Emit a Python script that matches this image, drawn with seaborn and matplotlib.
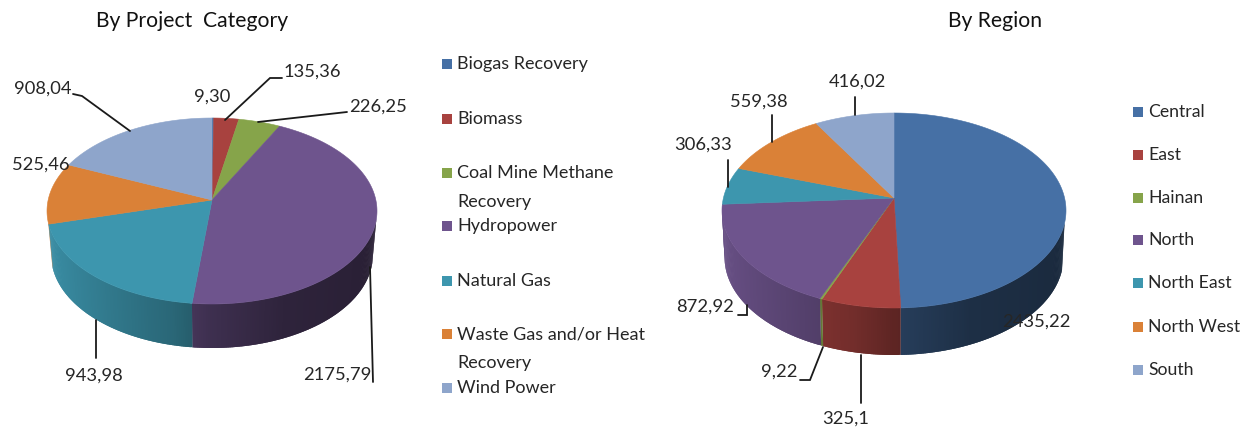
import numpy as np
import matplotlib
matplotlib.use("Agg")
import matplotlib.pyplot as plt
from matplotlib.collections import PolyCollection
from matplotlib.colors import to_rgb
import seaborn as sns

# ---- data ----
category_names = ["Biogas Recovery", "Biomass", "Coal Mine Methane\nRecovery", "Hydropower",
                  "Natural Gas", "Waste Gas and/or Heat\nRecovery", "Wind Power"]
category_values = [9.30, 135.36, 226.25, 2175.79, 943.98, 525.46, 908.04]
category_labels = ["9,30", "135,36", "226,25", "2175,79", "943,98", "525,46", "908,04"]

region_names = ["Central", "East", "Hainan", "North", "North East", "North West", "South"]
region_values = [2435.22, 325.1, 9.22, 872.92, 306.33, 559.38, 416.02]
region_labels = ["2435,22", "325,1", "9,22", "872,92", "306,33", "559,38", "416,02"]

left_colors = ["#4670a5", "#a8423f", "#86a44a", "#6e548d", "#3d96ae", "#da8137", "#8ea5cb"]
right_colors = ["#4670a5", "#a8423f", "#86a44a", "#6e548d", "#3d96ae", "#da8137", "#8ea5cb"]

sns.set_theme(style="white")
plt.rcParams["font.family"] = ["Lato", "DejaVu Sans"]
TXT = "#262626"

fig = plt.figure(figsize=(12.52, 4.34), dpi=100)
ax = fig.add_axes([0, 0, 1, 1])
ax.set_xlim(0, 1252)
ax.set_ylim(434, 0)
ax.axis("off")


def pie3d(values, colors, cx, cy, rx, top, bot, depth, shrink, lim_left, lim_right):
    k = (bot - top) / (bot + top)
    A = top * (1 + k)
    B = rx * np.sqrt(1 - k * k)

    def proj(t):
        u, v = np.sin(t), np.cos(t)
        d = 1 + k * v
        return cx + B * u / d, cy - A * v / d

    frac = np.cumsum([0] + list(values)) / np.sum(values) * 2 * np.pi
    shade_u = [-1, -0.2, 0.0, 0.4, 1.0]
    shade_f = [0.95, 0.68, 0.56, 0.42, 0.37]

    # front wall: strips overlap their neighbour so no seams appear
    polys, cols = [], []
    for a, b, c in zip(frac[:-1], frac[1:], colors):
        n = max(2, int((b - a) / 0.01))
        ts = np.linspace(a, b, n + 1)
        base = np.array(to_rgb(c))
        for t0, t1 in zip(ts[:-1], ts[1:]):
            tm = (t0 + t1) / 2
            lim = lim_right if np.sin(tm) > 0 else lim_left
            if np.cos(tm) > lim:
                continue
            t_end = min(t1 + 0.012, b)
            x0, y0 = proj(t0)
            x1, y1 = proj(t_end)
            polys.append([(x0, y0), (x1, y1),
                          (cx + (x1 - cx) * shrink, y1 + depth),
                          (cx + (x0 - cx) * shrink, y0 + depth)])
            cols.append(base * np.interp(np.sin(tm), shade_u, shade_f))
    ax.add_collection(PolyCollection(polys, facecolors=cols, edgecolors="none", linewidths=0))

    # top face
    for a, b, c in zip(frac[:-1], frac[1:], colors):
        ts = np.linspace(a, b, max(3, int((b - a) / 0.01)))
        xs, ys = proj(ts)
        ax.fill(np.r_[cx, xs], np.r_[cy, ys], color=c, lw=0.4)


pie3d(category_values, left_colors, 212, 200, 165, 82, 104, 44, 0.975, -0.25, -0.2)
pie3d(region_values, right_colors, 894, 198, 172, 85, 110, 47, 0.985, -0.07, -0.25)

# value labels and leaders
left_pos = [(212, 97), (312, 72), (378, 107), (337, 375), (94, 376), (41, 165), (43, 89)]
right_pos = [(1036, 322), (846, 419), (779, 372), (705, 307), (703, 145), (759, 102), (857, 82)]
for lab, (x, y) in zip(category_labels + region_labels, left_pos + right_pos):
    ax.text(x, y, lab, ha="center", va="center", fontsize=13.2, color=TXT, zorder=6)

leaders = [
    [(225, 120), (270, 78), (282, 78)],
    [(258, 122), (347, 112)],
    [(73, 94), (82, 96), (130, 131)],
    [(96, 320), (96, 358)],
    [(370, 267), (373, 382)],
    [(855, 97), (855, 115)],
    [(772, 115), (772, 142)],
    [(728, 160), (728, 187)],
    [(738, 315), (747, 315), (747, 305)],
    [(800, 380), (810, 380), (823, 347)],
    [(861, 355), (861, 403)],
]
for pts in leaders:
    xs, ys = zip(*pts)
    ax.plot(xs, ys, color="#1a1a1a", lw=1.3, zorder=5, solid_joinstyle="miter")

# legends
left_y = [64, 119, 173, 226, 281, 334, 388]
right_y = [112, 155, 198, 240, 283, 327, 370]
for name, c, y in zip(category_names, left_colors, left_y):
    ax.plot([446.5], [y], "s", ms=7.9, color=c, mew=0)
    ax.text(457, y, name.split("\n")[0], va="center", ha="left", fontsize=13, color=TXT)
    if "\n" in name:
        ax.text(457, y + 29, name.split("\n")[1], va="center", ha="left", fontsize=13, color=TXT)
for name, c, y in zip(region_names, right_colors, right_y):
    ax.plot([1137.5], [y], "s", ms=7.9, color=c, mew=0)
    ax.text(1148, y, name, va="center", ha="left", fontsize=12.7, color=TXT)

ax.text(96, 21, "By Project  Category", va="center", ha="left", fontsize=15.2, color="#111111")
ax.text(948, 21, "By Region", va="center", ha="left", fontsize=15.2, color="#111111")

fig.savefig("out.png", dpi=100, facecolor="white")
